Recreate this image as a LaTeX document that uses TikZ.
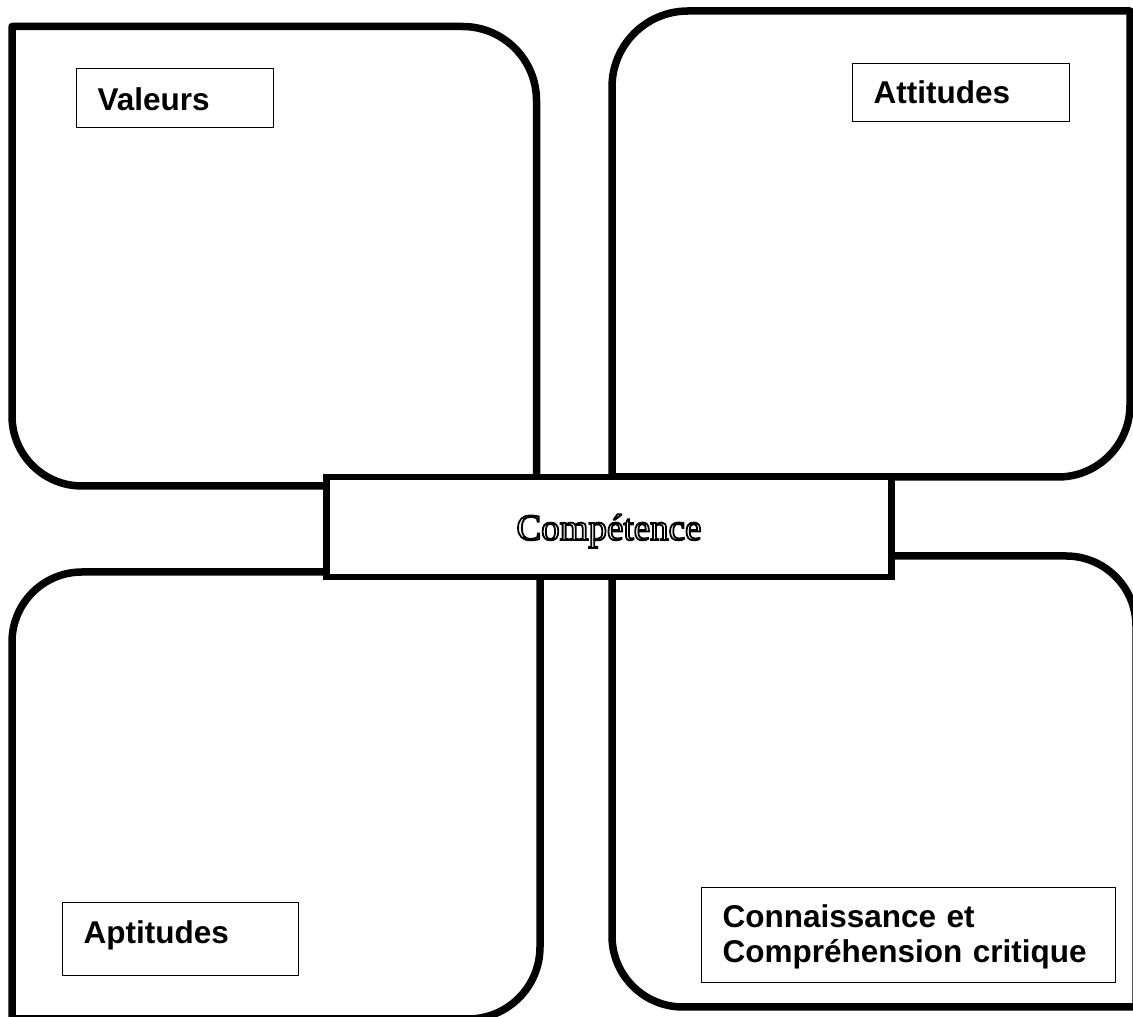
\documentclass[tikz,border=0pt]{standalone}
\usepackage{fontspec}
\setmainfont{Liberation Sans}
\newfontfamily\timesfont{Liberation Serif}
% texte en contour (mode de rendu PDF 1 = trait seul)
\newcommand{\contourtexte}[1]{\special{pdf:literal direct q 1 Tr 1.8 w}#1\special{pdf:literal direct Q}}

\tikzset{
  cadre/.style={line width=7.5pt, line join=round},
  etiquette/.style={draw, line width=1.3pt, anchor=north west, align=left,
    inner xsep=21pt, inner ysep=0pt, font=\fontsize{31.5}{35}\selectfont\bfseries},
  centre/.style={draw, fill=white, line width=6.5pt, minimum width=565pt,
    minimum height=100pt, inner sep=0pt, font=\timesfont\fontsize{37}{44}\selectfont,
    text height=26pt, text depth=0pt},
}

\begin{document}
\begin{tikzpicture}[x=1pt, y=1pt, line cap=round]
  \useasboundingbox[fill=white] (0,0) rectangle (1133,1017);
  % --- cadre haut gauche ---
  \draw[cadre] (12,990.5) -- (462.5,990.5) arc[start angle=90, end angle=0, radius=74pt]
    -- (536.5,531) -- (82,531) arc[start angle=270, end angle=180, radius=70pt] -- cycle;
  % --- cadre haut droite ---
  \draw[cadre] (612,540) -- (612,930) arc[start angle=180, end angle=90, radius=76pt]
    -- (1130,1006) -- (1130,612) arc[start angle=0, end angle=-90, radius=72pt] -- cycle;
  % --- cadre bas gauche ---
  \draw[cadre] (12,-2) -- (12,375) arc[start angle=180, end angle=90, radius=70pt]
    -- (540,445) -- (540,70) arc[start angle=0, end angle=-90, radius=72pt] -- cycle;
  % --- cadre bas droite ---
  \draw[cadre] (612,461) -- (1066,461) arc[start angle=90, end angle=0, radius=70pt]
    -- (1136,10) -- (683,10) arc[start angle=270, end angle=180, radius=71pt] -- cycle;
  % --- case centrale ---
  \node[centre] (competence) at (609,490) {\contourtexte{Compétence}};
  % --- etiquettes ---
  \node[etiquette, text width=155pt, text height=42pt, text depth=17pt] (valeurs) at (76,949) {Valeurs};
  \node[etiquette, text width=175pt, text height=40pt, text depth=18pt] (attitudes) at (852,954) {Attitudes};
  \node[etiquette, text width=194pt, text height=41pt, text depth=32pt] (aptitudes) at (62,115) {Aptitudes};
  \node[etiquette, text width=372pt, text height=40pt, text depth=55pt] (connaissance) at (701,130)
    {Connaissance et\\Compréhension critique};
\end{tikzpicture}
\end{document}
